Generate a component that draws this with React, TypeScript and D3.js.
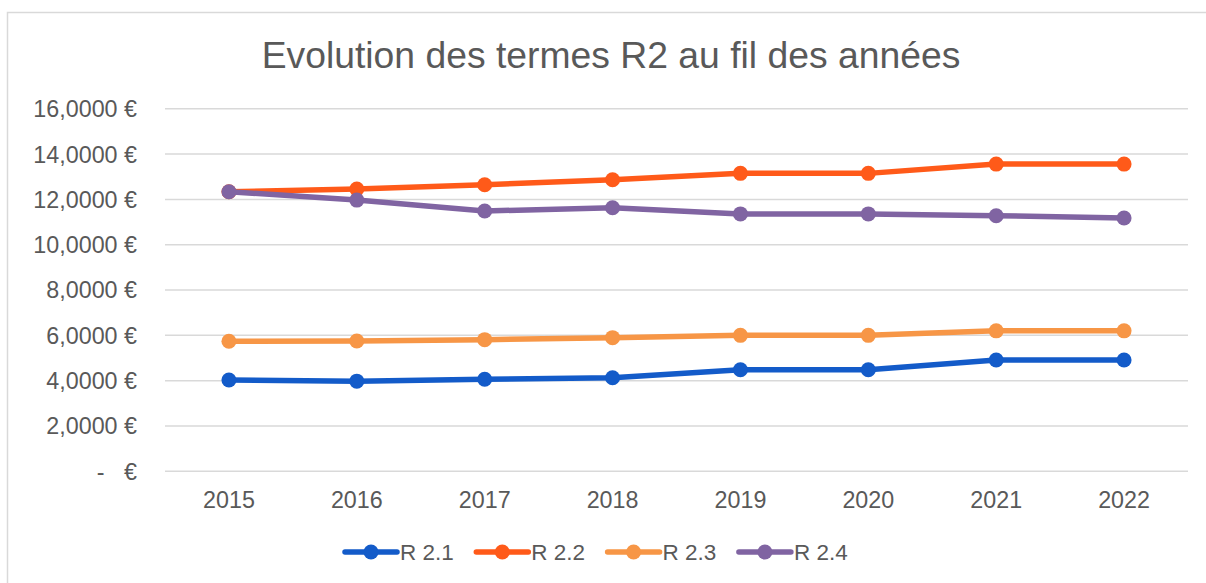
import React from "react";
import * as d3 from "d3";

const years = ["2015", "2016", "2017", "2018", "2019", "2020", "2021", "2022"];
const r21 = [4.03, 3.98, 4.06, 4.13, 4.48, 4.48, 4.91, 4.91];
const r22 = [12.34, 12.46, 12.65, 12.87, 13.15, 13.15, 13.56, 13.56];
const r23 = [5.74, 5.75, 5.81, 5.9, 6.0, 6.0, 6.2, 6.2];
const r24 = [12.34, 11.97, 11.49, 11.63, 11.36, 11.36, 11.28, 11.18];
const seriesNames = ["R 2.1", "R 2.2", "R 2.3", "R 2.4"];
const seriesColors = ["#135BC9", "#FF5A19", "#F79646", "#8064A2"];
const yTicks = [0, 2, 4, 6, 8, 10, 12, 14, 16];
const title = "Evolution des termes R2 au fil des années";

const W = 1206;
const H = 583;
const FONT = "'Liberation Sans', Arial, sans-serif";
const TXT = "#595959";

export default function App() {
  const x = d3.scaleBand<string>().domain(years).range([165, 1188]);
  const y = d3.scaleLinear().domain([0, 16]).range([471.3, 108.8]);
  const cx = (yr: string) => (x(yr) as number) + x.bandwidth() / 2;
  const allSeries = [r21, r22, r23, r24];
  const line = d3
    .line<number>()
    .x((_, i) => cx(years[i]))
    .y((d) => y(d));

  const fmt = (v: number) => (v === 0 ? "-   €" : d3.format(".4f")(v).replace(".", ",") + " €");

  const legendStart = 345;
  const legendStep = 131.3;

  return (
    <svg
      width={W}
      height={H}
      style={{ position: "absolute", left: 0, top: 0, background: "#fff" }}
      fontFamily={FONT}
    >
      <rect x={0} y={0} width={W} height={H} fill="#fff" />
      <path d={`M7.5,${H} V12.5 H${W}`} fill="none" stroke="#D9D9D9" strokeWidth={1.5} />
      <text x={611} y={68} textAnchor="middle" fontSize={37.3} fill={TXT}>
        {title}
      </text>
      {yTicks.map((t) => (
        <g key={t}>
          <line x1={165} x2={1188} y1={y(t)} y2={y(t)} stroke="#D9D9D9" strokeWidth={1.5} />
          <text
            x={137}
            y={y(t)}
            dy="0.36em"
            textAnchor="end"
            fontSize={23.3}
            fill={TXT}
            style={{ whiteSpace: "pre" }}
          >
            {fmt(t)}
          </text>
        </g>
      ))}
      {years.map((yr) => (
        <text key={yr} x={cx(yr)} y={508} textAnchor="middle" fontSize={23.3} fill={TXT}>
          {yr}
        </text>
      ))}
      {allSeries.map((s, si) => (
        <g key={si}>
          <path d={line(s) as string} fill="none" stroke={seriesColors[si]} strokeWidth={5.5} strokeLinejoin="round" />
          {s.map((v, i) => (
            <circle key={i} cx={cx(years[i])} cy={y(v)} r={7.5} fill={seriesColors[si]} />
          ))}
        </g>
      ))}
      {seriesNames.map((n, i) => {
        const lx = legendStart + i * legendStep;
        return (
          <g key={n}>
            <line x1={lx} x2={lx + 52} y1={552} y2={552} stroke={seriesColors[i]} strokeWidth={5.5} strokeLinecap="round" />
            <circle cx={lx + 26} cy={552} r={7.5} fill={seriesColors[i]} />
            <text x={lx + 55} y={552} dy="0.36em" fontSize={22.5} fill={TXT}>
              {n}
            </text>
          </g>
        );
      })}
    </svg>
  );
}
